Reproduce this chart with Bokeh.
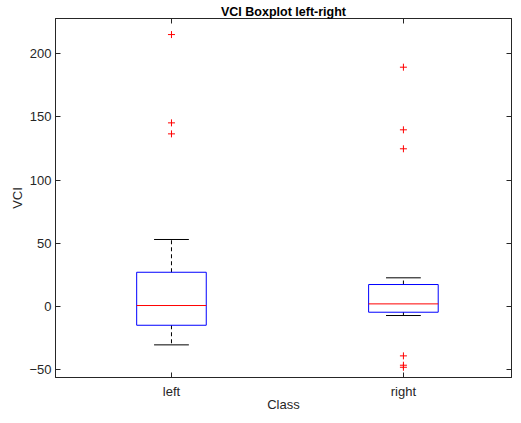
from bokeh.plotting import figure
from bokeh.models import LinearAxis, FixedTicker, Range1d, CustomJSTickFormatter
from bokeh.embed import file_html
from bokeh.resources import INLINE

# ---- data ----
categories = ["left", "right"]
q1 = [-14.8, -4.5]
medians = [0.8, 2.1]
q3 = [27.1, 17.4]
whisker_low = [-30.3, -7.1]
whisker_high = [53.0, 22.7]
outliers_left = [215.0, 145.2, 136.5]
outliers_right = [189.2, 139.7, 124.7, -39.0, -46.4, -48.0]
y_ticks = [-50, 0, 50, 100, 150, 200]
title_text = "VCI Boxplot left-right"
x_label = "Class"
y_label = "VCI"

xs = [i + 1 for i in range(len(categories))]
box_w = 0.3
cap_w = 0.15

FONT = "Liberation Sans"
AX = "#262626"

p = figure(width=513, height=415, output_backend="svg", toolbar_location=None,
           x_range=Range1d(0.5, 2.466), y_range=Range1d(-56.1, 227.7),
           min_border_left=55, min_border_right=2, min_border_top=18, min_border_bottom=38)
p.grid.visible = False
p.background_fill_color = "white"
p.border_fill_color = "white"
p.outline_line_color = AX

p.title.text = title_text
p.title.align = "center"
p.title.text_font = FONT
p.title.text_font_size = "12.5px"
p.title.text_font_style = "bold"
p.title.text_color = "black"
p.title.standoff = 0
p.title.offset = 0

# axes styling
for ax in (p.xaxis[0], p.yaxis[0]):
    ax.axis_line_color = AX
    ax.major_tick_line_color = AX
    ax.major_tick_in = 5
    ax.major_tick_out = 0
    ax.minor_tick_line_color = None
    ax.major_label_text_font = FONT
    ax.major_label_text_font_size = "13px"
    ax.major_label_text_color = AX
    ax.axis_label_text_font = FONT
    ax.axis_label_text_font_size = "13px"
    ax.axis_label_text_font_style = "normal"
    ax.axis_label_text_color = AX

p.xaxis.ticker = FixedTicker(ticks=xs)
p.xaxis.major_label_overrides = {x: c for x, c in zip(xs, categories)}
p.xaxis.axis_label = x_label
p.xaxis.major_label_standoff = 6
p.xaxis.axis_label_standoff = -5

p.yaxis.ticker = FixedTicker(ticks=y_ticks)
p.yaxis.axis_label = y_label
p.yaxis.major_label_standoff = 4
p.yaxis.axis_label_standoff = 1

empty = CustomJSTickFormatter(code="return ''")
right_ax = LinearAxis(ticker=FixedTicker(ticks=y_ticks), formatter=empty,
                      major_tick_in=5, major_tick_out=0, minor_tick_line_color=None,
                      major_label_text_font_size="0px", major_label_standoff=0,
                      axis_line_color=AX, major_tick_line_color=AX)
top_ax = LinearAxis(ticker=FixedTicker(ticks=xs), formatter=empty,
                    major_tick_in=5, major_tick_out=0, minor_tick_line_color=None,
                    major_label_text_font_size="0px", major_label_standoff=0,
                    axis_line_color=AX, major_tick_line_color=AX)
p.add_layout(right_ax, "right")
p.add_layout(top_ax, "above")

# whiskers (dashed)
p.segment(x0=xs, x1=xs, y0=q3, y1=whisker_high, line_color="black", line_width=1, line_dash="4 3")
p.segment(x0=xs, x1=xs, y0=q1, y1=whisker_low, line_color="black", line_width=1, line_dash="4 3")
# caps
cx0 = [x - cap_w / 2 for x in xs]
cx1 = [x + cap_w / 2 for x in xs]
p.segment(x0=cx0, x1=cx1, y0=whisker_high, y1=whisker_high, line_color="black", line_width=1)
p.segment(x0=cx0, x1=cx1, y0=whisker_low, y1=whisker_low, line_color="black", line_width=1)
# boxes
p.vbar(x=xs, width=box_w, bottom=q1, top=q3, fill_color=None, line_color="blue", line_width=1)
# medians
mx0 = [x - box_w / 2 for x in xs]
mx1 = [x + box_w / 2 for x in xs]
p.segment(x0=mx0, x1=mx1, y0=medians, y1=medians, line_color="red", line_width=1)
# outliers
p.scatter(x=[xs[0]] * len(outliers_left), y=outliers_left, marker="cross", size=7,
          line_color="red", line_width=1)
p.scatter(x=[xs[1]] * len(outliers_right), y=outliers_right, marker="cross", size=7,
          line_color="red", line_width=1)

open("out.html", "w").write(file_html(p, INLINE))
